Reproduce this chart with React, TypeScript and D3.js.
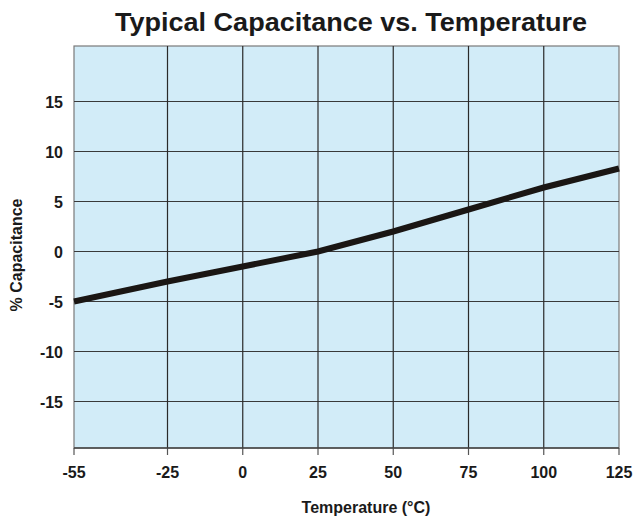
import * as d3 from "d3";

const WIDTH = 635;
const HEIGHT = 516;
const PLOT = { left: 74, right: 619, top: 46, bottom: 448 };

const temps = [-55, -25, 0, 25, 50, 75, 100, 125];
const capChange = [-5, -3, -1.5, 0, 2, 4.2, 6.4, 8.3];
const xTicks = [-55, -25, 0, 25, 50, 75, 100, 125];
const yTicks = [-15, -10, -5, 0, 5, 10, 15];

const FONT = "'Liberation Sans', Arial, Helvetica, sans-serif";

export default function App() {
  // the printed grid has an uneven first interval (-55 to -25)
  const x = d3
    .scaleLinear()
    .domain([-55, -25, 125])
    .range([PLOT.left, 167.5, PLOT.right]);
  const y = d3.scaleLinear().domain([-19.65, 20.55]).range([PLOT.bottom, PLOT.top]);

  const points = temps.map((t, i) => [t, capChange[i]] as [number, number]);
  const line = d3
    .line<[number, number]>()
    .x((d) => x(d[0]))
    .y((d) => y(d[1]));

  return (
    <svg
      width={WIDTH}
      height={HEIGHT}
      style={{ position: "absolute", left: 0, top: 0, background: "#fff" }}
      fontFamily={FONT}
    >
      <text
        x={351}
        y={31}
        textAnchor="middle"
        fontSize={25}
        fontWeight="bold"
        fill="#1a1a1a"
        textLength={472}
        lengthAdjust="spacingAndGlyphs"
      >
        Typical Capacitance vs. Temperature
      </text>

      <rect
        x={PLOT.left}
        y={PLOT.top}
        width={PLOT.right - PLOT.left}
        height={PLOT.bottom - PLOT.top}
        fill="#d2ecf8"
        stroke="#7a7a7a"
        strokeWidth={1.2}
      />

      {yTicks.map((t) => (
        <g key={`y${t}`}>
          <line
            x1={PLOT.left}
            x2={PLOT.right}
            y1={y(t)}
            y2={y(t)}
            stroke="#3a3a3a"
            strokeWidth={1.2}
          />
          <text
            x={63}
            y={y(t) + 6}
            textAnchor="end"
            fontSize={16}
            fontWeight="bold"
            fill="#1a1a1a"
          >
            {t}
          </text>
        </g>
      ))}

      {xTicks.map((t, i) => (
        <g key={`x${t}`}>
          {i > 0 && i < xTicks.length - 1 && (
            <line
              x1={x(t)}
              x2={x(t)}
              y1={PLOT.top}
              y2={PLOT.bottom}
              stroke="#2a2a2a"
              strokeWidth={1.2}
            />
          )}
          <line
            x1={x(t)}
            x2={x(t)}
            y1={PLOT.bottom}
            y2={PLOT.bottom + 7}
            stroke="#555"
            strokeWidth={1.2}
          />
          <text
            x={x(t)}
            y={478}
            textAnchor="middle"
            fontSize={16}
            fontWeight="bold"
            fill="#1a1a1a"
          >
            {t}
          </text>
        </g>
      ))}

      <line
        x1={PLOT.left}
        x2={PLOT.right}
        y1={PLOT.bottom}
        y2={PLOT.bottom}
        stroke="#444"
        strokeWidth={1.4}
      />

      <path
        d={line(points) ?? ""}
        fill="none"
        stroke="#1a1614"
        strokeWidth={6}
      />

      <text
        x={366}
        y={513}
        textAnchor="middle"
        fontSize={16}
        fontWeight="bold"
        fill="#1a1a1a"
      >
        Temperature (°C)
      </text>

      <text
        transform="translate(22,255) rotate(-90)"
        textAnchor="middle"
        fontSize={16}
        fontWeight="bold"
        fill="#1a1a1a"
      >
        % Capacitance
      </text>
    </svg>
  );
}
